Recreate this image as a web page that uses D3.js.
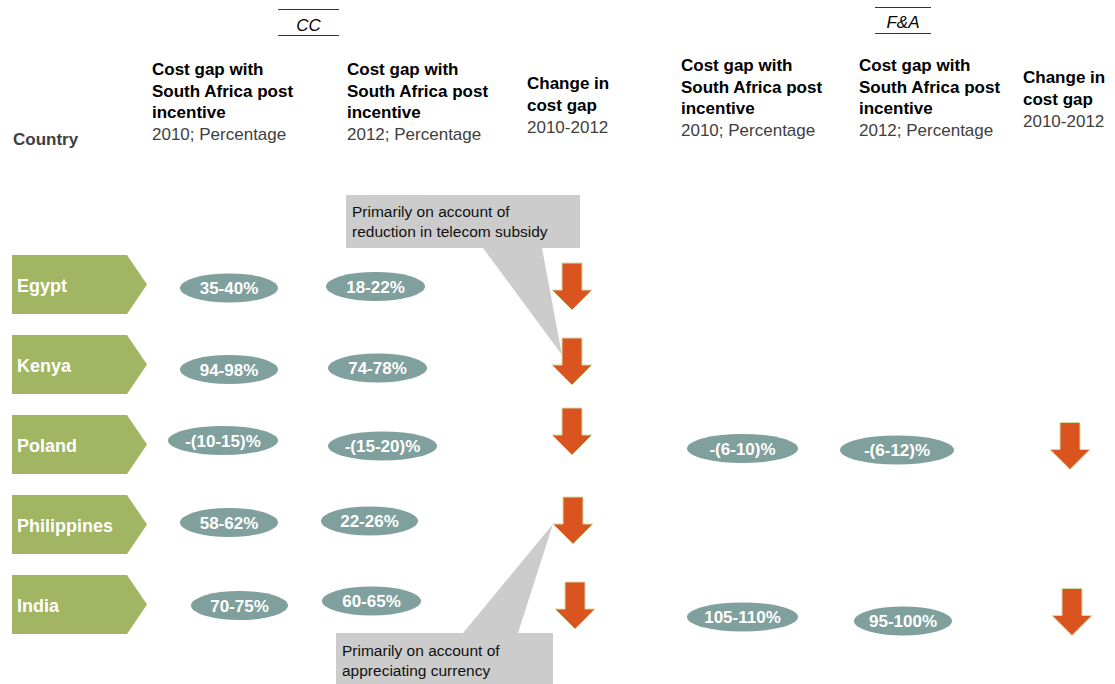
<!DOCTYPE html>
<html>
<head>
<meta charset="utf-8">
<script src="https://cdn.jsdelivr.net/npm/d3@7"></script>
<style>
  html, body { margin: 0; padding: 0; background: #fff; }
  svg { display: block; font-family: "Liberation Sans", Arial, sans-serif; }
</style>
</head>
<body>
<svg id="chart" width="1115" height="684"></svg>
<script>
// ---- data ----
const countries = ["Egypt", "Kenya", "Poland", "Philippines", "India"];
const cc2010 = ["35-40%", "94-98%", "-(10-15)%", "58-62%", "70-75%"];
const cc2012 = ["18-22%", "74-78%", "-(15-20)%", "22-26%", "60-65%"];
const ccChange = ["down", "down", "down", "down", "down"];
const fa2010 = [null, null, "-(6-10)%", null, "105-110%"];
const fa2012 = [null, null, "-(6-12)%", null, "95-100%"];
const faChange = [null, null, "down", null, "down"];

const groupNames = ["CC", "F&A"];
const gapTitle = ["Cost gap with", "South Africa post", "incentive"];
const changeTitle = ["Change in", "cost gap"];
const subTitles = ["2010; Percentage", "2012; Percentage", "2010-2012"];
const countryTitle = "Country";
const noteTelecom = ["Primarily on account of", "reduction in telecom subsidy"];
const noteCurrency = ["Primarily on account of", "appreciating currency"];

// ---- layout ----
const W = 1115, H = 684;
const colKeys = ["cc2010", "cc2012", "ccChange", "fa2010", "fa2012", "faChange"];
const x = d3.scaleOrdinal().domain(colKeys).range([229, 375, 572, 742.5, 900, 1070]);
const y = d3.scalePoint().domain(countries).range([284.5, 604.5]);

// hand-placed nudges of each mark from its grid cell: [dx, dy, half-width]
const offset = {
  cc2010:   [[0, 3.5, 49], [0, 5, 49], [-6, -4, 55], [0, -2, 49], [10.5, 1, 48.5]],
  cc2012:   [[0.5, 2, 49.5], [2.5, 3.5, 49.5], [7.5, 1.5, 54.5], [-5.5, -3.5, 48.5], [-3.5, -3.5, 49.5]],
  ccChange: [[0, 2], [0, -3], [0, -13], [1, -4], [3, 1]],
  fa2010:   [null, null, [0, 4, 55.5], null, [0, 12.5, 55.5]],
  fa2012:   [null, null, [-3, 5.5, 57], null, [3, 16.5, 49]],
  faChange: [null, null, [0, 1.5], null, [2, 7.5]]
};

const colors = {
  tag: "#A2B562",
  pill: "#80A09D",
  arrow: "#D9541F",
  arrowEdge: "#D3DBA2",
  note: "#CCCCCC",
  head: "#000000",
  sub: "#404040"
};

const svg = d3.select("#chart");

// ---- header ----
const head = svg.append("g");

function groupLabel(text, cx, top, bottom, half, baseline) {
  head.append("line").attr("x1", cx - half).attr("x2", cx + half)
    .attr("y1", top).attr("y2", top).attr("stroke", "#333").attr("stroke-width", 1);
  head.append("line").attr("x1", cx - half).attr("x2", cx + half)
    .attr("y1", bottom).attr("y2", bottom).attr("stroke", "#333").attr("stroke-width", 1);
  head.append("text").attr("x", cx).attr("y", baseline).attr("text-anchor", "middle")
    .attr("font-size", 17).attr("font-style", "italic").attr("fill", colors.head).text(text);
}
groupLabel(groupNames[0], 308.5, 9.5, 35.5, 30.5, 31);
groupLabel(groupNames[1], 903, 7.5, 33.5, 28, 28);

function columnTitle(lines, sub, x0, baseline) {
  const step = 21.7;
  const t = head.append("text").attr("x", x0).attr("font-size", 17);
  lines.forEach((ln, i) => {
    t.append("tspan").attr("x", x0).attr("y", baseline + i * step)
      .attr("font-weight", "bold").attr("fill", colors.head).text(ln);
  });
  t.append("tspan").attr("x", x0).attr("y", baseline + lines.length * step)
    .attr("fill", colors.sub).text(sub);
}
columnTitle(gapTitle, subTitles[0], 152, 75);
columnTitle(gapTitle, subTitles[1], 347, 75);
columnTitle(changeTitle, subTitles[2], 527, 89.3);
columnTitle(gapTitle, subTitles[0], 681, 71);
columnTitle(gapTitle, subTitles[1], 859, 71);
columnTitle(changeTitle, subTitles[2], 1023, 83.3);

head.append("text").attr("x", 13).attr("y", 145).attr("font-size", 17)
  .attr("font-weight", "bold").attr("fill", colors.sub).text(countryTitle);

// ---- arrow geometry ----
const AR = { h: 47, headH: 20, shaftW: 10, headW: 20 };
function arrowPos(key, i) {
  const o = offset[key][i];
  return { cx: x(key) + o[0], cy: y(countries[i]) + o[1] };
}
function arrowPath(p) {
  const top = p.cy - AR.h / 2, hy = top + AR.h - AR.headH, tip = top + AR.h;
  return `M${p.cx - AR.shaftW},${top}H${p.cx + AR.shaftW}V${hy}H${p.cx + AR.headW}` +
         `L${p.cx},${tip}L${p.cx - AR.headW},${hy}H${p.cx - AR.shaftW}Z`;
}

// ---- callouts (behind the arrows) ----
const notes = svg.append("g");
function callout(lines, box, base, apex, firstBaseline) {
  const [x0, y0, x1, y1] = box;
  let d;
  if (apex[1] > y1) {
    d = `M${x0},${y0}H${x1}V${y1}H${base[1]}L${apex[0]},${apex[1]}L${base[0]},${y1}H${x0}Z`;
  } else {
    d = `M${x0},${y0}H${base[0]}L${apex[0]},${apex[1]}L${base[1]},${y0}H${x1}V${y1}H${x0}Z`;
  }
  notes.append("path").attr("d", d).attr("fill", colors.note);
  const t = notes.append("text").attr("font-size", 15.5).attr("fill", "#111");
  lines.forEach((ln, i) => {
    t.append("tspan").attr("x", x0 + 6).attr("y", firstBaseline + i * 20).text(ln);
  });
}
{
  const kenya = arrowPos("ccChange", 1);
  const apex1 = [kenya.cx - AR.shaftW, kenya.cy - AR.h / 2 + 17];
  callout(noteTelecom, [346, 195, 580, 248], [483, 542], apex1, 217);

  const phil = arrowPos("ccChange", 3);
  const apex2 = [phil.cx - AR.headW, phil.cy - AR.h / 2 + AR.h - AR.headH];
  callout(noteCurrency, [336, 633, 553, 700], [463, 518], apex2, 656);
}

// ---- country tags ----
const tags = svg.append("g");
const tag = { x0: 12, x1: 127, tip: 147, half: 29.5 };
tags.selectAll("path").data(countries).join("path")
  .attr("d", c => {
    const cy = y(c);
    return `M${tag.x0},${cy - tag.half}H${tag.x1}L${tag.tip},${cy}L${tag.x1},${cy + tag.half}H${tag.x0}Z`;
  })
  .attr("fill", colors.tag);
tags.selectAll("text").data(countries).join("text")
  .attr("x", 17).attr("y", c => y(c) + 7)
  .attr("font-size", 18).attr("font-weight", "bold").attr("fill", "#fff")
  .text(c => c);

// ---- value pills ----
const pillLayer = svg.append("g");
function pills(key, values) {
  values.forEach((v, i) => {
    if (v == null) return;
    const o = offset[key][i];
    const cx = x(key) + o[0], cy = y(countries[i]) + o[1];
    const g = pillLayer.append("g");
    g.append("ellipse").attr("cx", cx).attr("cy", cy).attr("rx", o[2]).attr("ry", 14.5)
      .attr("fill", colors.pill);
    g.append("text").attr("x", cx).attr("y", cy + 6).attr("text-anchor", "middle")
      .attr("font-size", 17).attr("font-weight", "bold").attr("fill", "#fff").text(v);
  });
}
pills("cc2010", cc2010);
pills("cc2012", cc2012);
pills("fa2010", fa2010);
pills("fa2012", fa2012);

// ---- change arrows ----
const arrows = svg.append("g");
function changeArrows(key, values) {
  values.forEach((v, i) => {
    if (v !== "down") return;
    arrows.append("path").attr("d", arrowPath(arrowPos(key, i)))
      .attr("fill", colors.arrow).attr("stroke", colors.arrowEdge).attr("stroke-width", 1);
  });
}
changeArrows("ccChange", ccChange);
changeArrows("faChange", faChange);
</script>
</body>
</html>
